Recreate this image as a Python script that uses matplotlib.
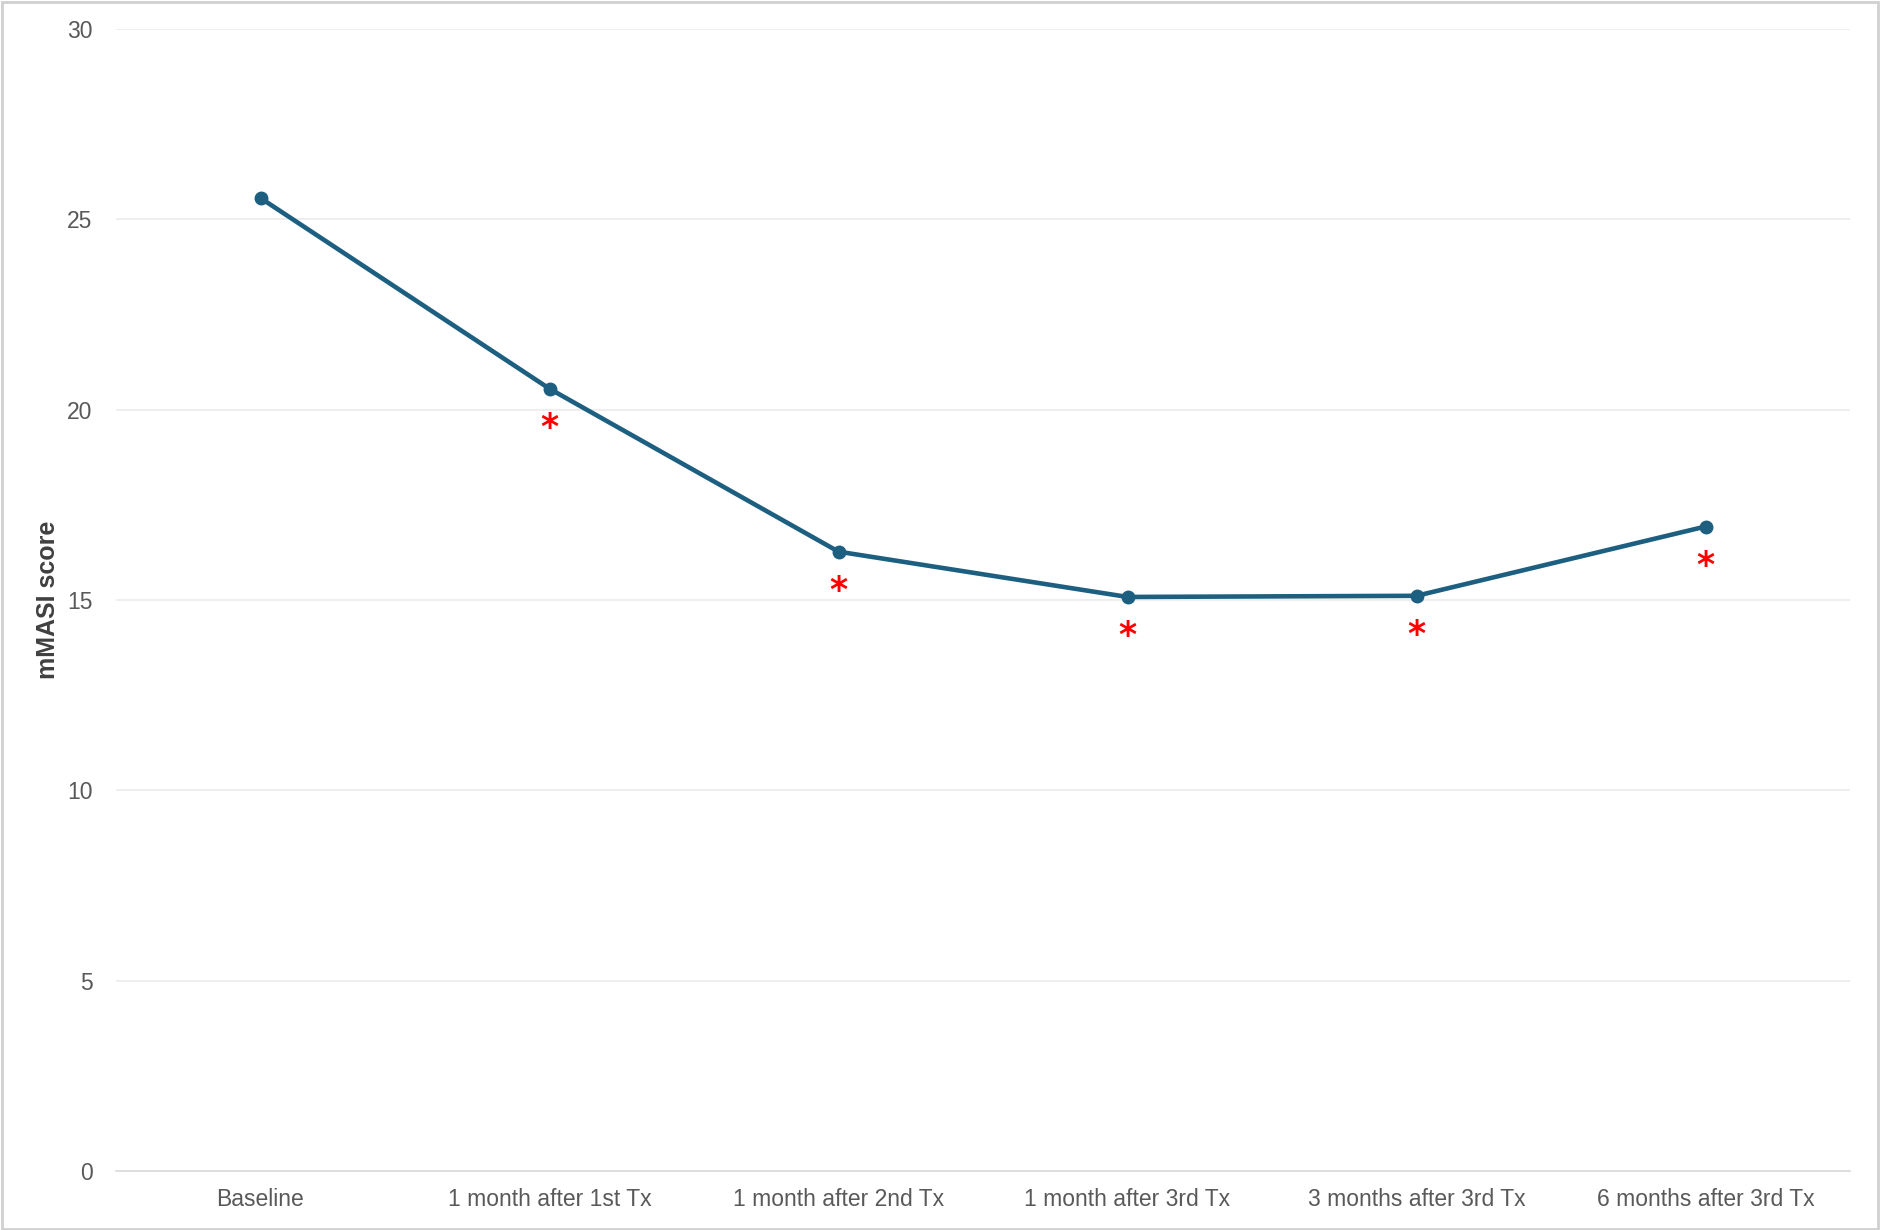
import numpy as np
import matplotlib.pyplot as plt
from matplotlib.patches import Rectangle

# Dados
timepoints = ["Baseline", "1 month after 1st Tx", "1 month after 2nd Tx",
              "1 month after 3rd Tx", "3 months after 3rd Tx", "6 months after 3rd Tx"]
mmasi = [25.56, 20.55, 16.27, 15.08, 15.11, 16.93]
significant = [False, True, True, True, True, True]
y_ticks = [0, 5, 10, 15, 20, 25, 30]


def main():
    plt.rcParams["font.family"] = ["Liberation Sans", "DejaVu Sans"]
    fig = plt.figure(figsize=(18.8, 12.3), dpi=100)
    ax = fig.add_axes([116 / 1880, 1 - 1171 / 1230, (1850 - 116) / 1880, (1171 - 29) / 1230])

    x = np.arange(len(timepoints))
    ax.plot(x, mmasi, color="#1d5f80", lw=3.3, marker="o", ms=9, zorder=3)

    # asteriscos de significancia
    for xi, yi, sig in zip(x, mmasi, significant):
        if sig:
            ax.annotate("*", (xi, yi), xytext=(0, -16), textcoords="offset points",
                        ha="center", va="top", color="red", fontsize=25,
                        fontweight="bold", family="DejaVu Sans")

    ax.set_xlim(-0.5, len(timepoints) - 0.5)
    ax.set_ylim(0, 30)
    ax.set_yticks(y_ticks)
    ax.set_xticks(x)
    ax.set_xticklabels(timepoints)
    ax.yaxis.grid(True, color="#ebebeb", lw=1.2)
    ax.set_axisbelow(True)
    for s in ["top", "right", "left"]:
        ax.spines[s].set_visible(False)
    ax.spines["bottom"].set_color("#d9d9d9")
    ax.spines["bottom"].set_linewidth(1.2)
    ax.tick_params(length=0, labelsize=16.5, labelcolor="#595959")
    ax.tick_params(axis="y", pad=17)
    ax.tick_params(axis="x", pad=12)
    ax.set_ylabel("mMASI score", fontsize=18, fontweight="bold", color="#404040", labelpad=5)

    # moldura
    fig.patches.append(Rectangle((0.001, 0.001), 0.998, 0.997, transform=fig.transFigure,
                                 fill=False, edgecolor="#d0d0d0", lw=2))

    fig.savefig("out.png", dpi=100)


if __name__ == "__main__":
    main()
